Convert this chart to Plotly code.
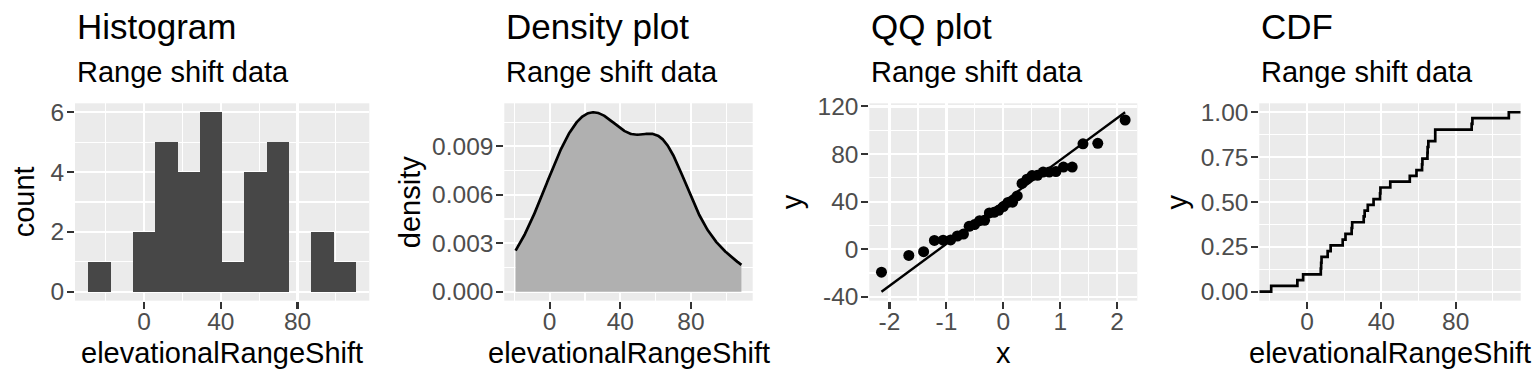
import numpy as np
import plotly.graph_objects as go
from statistics import NormalDist

# ---------------- data ----------------
range_shift = [58.9, 7.8, 108.6, 44.8, 11.1, 19.2, 61.9, 30.5, 12.7, 35.8,
               7.4, 39.3, 24.0, 62.1, 24.3, 55.3, 32.7, 65.3, -19.3, 7.6,
               -5.2, -2.1, 31.0, 69.0, 88.6, 39.5, 20.7, 89.0, 69.0, 64.9, 64.8]

panel_titles = ["Histogram", "Density plot", "QQ plot", "CDF"]
subtitle = "Range shift data"
x_titles = ["elevationalRangeShift", "elevationalRangeShift", "x", "elevationalRangeShift"]
y_titles = ["count", "density", "y", "y"]

shift_ticks = [0, 40, 80]
shift_ticktext = ["0", "40", "80"]
count_ticks = [0, 2, 4, 6]
count_ticktext = ["0", "2", "4", "6"]
dens_ticks = [0, 0.003, 0.006, 0.009]
dens_ticktext = ["0.000", "0.003", "0.006", "0.009"]
qqx_ticks = [-2, -1, 0, 1, 2]
qqx_ticktext = ["-2", "-1", "0", "1", "2"]
qqy_ticks = [-40, 0, 40, 80, 120]
qqy_ticktext = ["-40", "0", "40", "80", "120"]
cdf_ticks = [0, 0.25, 0.5, 0.75, 1.0]
cdf_ticktext = ["0.00", "0.25", "0.50", "0.75", "1.00"]

n_bins = 12

# ---------------- stats ----------------
x = np.array(range_shift, dtype=float)
n = len(x)
xs = np.sort(x)
xmin, xmax = xs[0], xs[-1]

# histogram bins (ggplot2 style, bins=12)
bw_hist = (xmax - xmin) / (n_bins - 1)
boundary = bw_hist / 2
hist_start = boundary + np.floor((xmin - boundary) / bw_hist) * bw_hist
hist_end = hist_start + n_bins * bw_hist

# density (gaussian kernel, bw.nrd0)
q1, q3 = np.quantile(x, [0.25, 0.75])
sd = np.std(x, ddof=1)
bw = 0.9 * min(sd, (q3 - q1) / 1.34) * n ** (-0.2)
grid = np.linspace(xmin, xmax, 512)
dens = np.exp(-0.5 * ((grid[:, None] - x[None, :]) / bw) ** 2).sum(axis=1) / (n * bw * np.sqrt(2 * np.pi))

# QQ
nd = NormalDist()
theo = np.array([nd.inv_cdf((i - 0.5) / n) for i in range(1, n + 1)])
zq1, zq3 = nd.inv_cdf(0.25), nd.inv_cdf(0.75)
slope = (q3 - q1) / (zq3 - zq1)
intercept = q1 - slope * zq1
line_x = np.array([theo[0], theo[-1]])
line_y = intercept + slope * line_x

# ECDF
ecdf_y = np.arange(1, n + 1) / n


def expand(lo, hi, f=0.05):
    d = (hi - lo) * f
    return [lo - d, hi + d]


r_hist_x = expand(hist_start, hist_end)
r_hist_y = expand(0, 6)
r_shift = expand(xmin, xmax)
r_dens_y = expand(0, dens.max())
r_qq_x = expand(theo[0], theo[-1])
r_qq_y = expand(min(xs[0], line_y.min()), max(xs[-1], line_y.max()))
r_cdf_y = expand(0, 1)

ecdf_x = np.concatenate([[r_shift[0]], xs, [r_shift[1]]])
ecdf_yy = np.concatenate([[0], ecdf_y, [1]])

# ---------------- figure ----------------
W, H = 1536, 384
FONT = "Liberation Sans, Arial, sans-serif"
BASE = 29
TICK = 24.5
TITLE = 35

# vertical placement correction observed in the rendered output
VS, VO = 0.953, 8.5


def vy(target_px):
    """paper y for a target vertical pixel position"""
    return 1 - ((target_px - VO) / VS) / H


def px(xp):
    return xp / W


panels_px = [(75, 369.3), (504.3, 752.7), (869.3, 1137.3), (1259.3, 1520.7)]
top_px, bot_px = 102.3, 300.7
ydom = [vy(bot_px), vy(top_px)]

fig = go.Figure()

fig.add_trace(go.Histogram(x=range_shift, xbins=dict(start=hist_start, end=hist_end, size=bw_hist),
                           marker=dict(color="#474747", line=dict(width=0)),
                           xaxis="x", yaxis="y", hoverinfo="skip"))
fig.add_trace(go.Scatter(x=grid, y=dens, mode="lines", fill="tozeroy", fillcolor="#B0B0B0",
                         line=dict(width=0, color="rgba(0,0,0,0)"), xaxis="x2", yaxis="y2", hoverinfo="skip"))
fig.add_trace(go.Scatter(x=grid, y=dens, mode="lines", line=dict(color="black", width=2.7),
                         xaxis="x2", yaxis="y2", hoverinfo="skip"))
fig.add_trace(go.Scatter(x=line_x, y=line_y, mode="lines", line=dict(color="black", width=2.4),
                         xaxis="x3", yaxis="y3", hoverinfo="skip"))
fig.add_trace(go.Scatter(x=theo, y=xs, mode="markers", marker=dict(color="black", size=11, line=dict(width=0)),
                         xaxis="x3", yaxis="y3", hoverinfo="skip"))
fig.add_trace(go.Scatter(x=ecdf_x, y=ecdf_yy, mode="lines", line=dict(color="black", width=2.7, shape="hv"),
                         xaxis="x4", yaxis="y4", hoverinfo="skip"))


def ax(domain, rng, tickvals, ticktext, minor_dtick, minor_tick0, anchor, standoff):
    return dict(domain=domain, range=rng, tickvals=tickvals, ticktext=ticktext,
                showgrid=True, gridcolor="white", gridwidth=2.2, zeroline=False,
                showline=False, ticks="outside", ticklen=7, tickwidth=2.1, tickcolor="#333333",
                tickfont=dict(family=FONT, size=TICK, color="#4D4D4D"), ticklabelstandoff=standoff,
                minor=dict(dtick=minor_dtick, tick0=minor_tick0, showgrid=True, gridcolor="white",
                           gridwidth=1.1, ticks=""),
                anchor=anchor, fixedrange=True)


layout = dict(width=W, height=H, margin=dict(l=0, r=0, t=0, b=0), paper_bgcolor="white",
              plot_bgcolor="#EBEBEB", showlegend=False, bargap=0, font=dict(family=FONT, color="black"))

XS_OFF, YS_OFF = -8, -2
xd = [[px(a), px(b)] for a, b in panels_px]
layout["xaxis"] = ax(xd[0], r_hist_x, shift_ticks, shift_ticktext, 20, 0, "y", XS_OFF)
layout["yaxis"] = ax(ydom, r_hist_y, count_ticks, count_ticktext, 1, 0, "x", YS_OFF)
layout["xaxis2"] = ax(xd[1], r_shift, shift_ticks, shift_ticktext, 20, 0, "y2", XS_OFF)
layout["yaxis2"] = ax(ydom, r_dens_y, dens_ticks, dens_ticktext, 0.0015, 0, "x2", YS_OFF)
layout["xaxis3"] = ax(xd[2], r_qq_x, qqx_ticks, qqx_ticktext, 0.5, 0, "y3", XS_OFF)
layout["yaxis3"] = ax(ydom, r_qq_y, qqy_ticks, qqy_ticktext, 20, 0, "x3", YS_OFF)
layout["xaxis4"] = ax(xd[3], r_shift, shift_ticks, shift_ticktext, 20, 0, "y4", XS_OFF)
layout["yaxis4"] = ax(ydom, r_cdf_y, cdf_ticks, cdf_ticktext, 0.125, 0, "x4", YS_OFF)

fig.update_layout(**layout)

ytitle_x = [24.4, 410.2, 792.2, 1176.6]
ann = []
for i, (a, b) in enumerate(panels_px):
    ann.append(dict(text=panel_titles[i], x=px(a), y=vy(25.1), xref="paper", yref="paper",
                    xanchor="left", yanchor="middle", showarrow=False,
                    font=dict(family=FONT, size=TITLE, color="black")))
    ann.append(dict(text=subtitle, x=px(a), y=vy(71.0), xref="paper", yref="paper",
                    xanchor="left", yanchor="middle", showarrow=False,
                    font=dict(family=FONT, size=BASE, color="black")))
    ann.append(dict(text=x_titles[i], x=px((a + b) / 2), y=vy(353.0), xref="paper", yref="paper",
                    xanchor="center", yanchor="middle", showarrow=False,
                    font=dict(family=FONT, size=BASE, color="black")))
    ann.append(dict(text=y_titles[i], x=px(ytitle_x[i]), y=vy((top_px + bot_px) / 2),
                    xref="paper", yref="paper", xanchor="center", yanchor="middle", textangle=-90,
                    showarrow=False, font=dict(family=FONT, size=BASE, color="black")))
fig.update_layout(annotations=ann)

fig.write_html("out.html", config={"displayModeBar": False, "staticPlot": True},
               post_script="document.body.style.margin='0px';document.body.style.overflow='hidden';")
